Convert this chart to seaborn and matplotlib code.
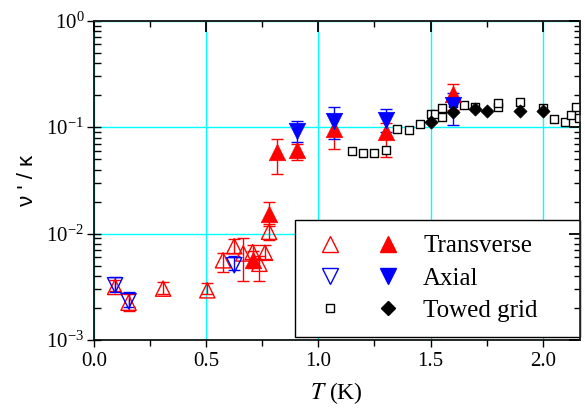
import numpy as np
import pandas as pd
import matplotlib
matplotlib.use("Agg")
import matplotlib.pyplot as plt
import seaborn as sns
from matplotlib.legend_handler import HandlerTuple
from matplotlib.lines import Line2D
from matplotlib.ticker import LogLocator, LogFormatterMathtext, MultipleLocator, NullFormatter

# ---- data ----
tr_open_T = [0.094, 0.154, 0.308, 0.505, 0.575, 0.625, 0.665, 0.707, 0.737, 0.762, 0.78]
tr_open_v = [0.00315, 0.00224, 0.00304, 0.00293, 0.00561, 0.0076, 0.0065, 0.0067, 0.0052, 0.0066, 0.0104]
tr_open_lo = [0.0029, 0.00187, 0.0027, 0.0027, 0.0044, 0.0065, 0.0036, 0.0058, 0.0036, 0.0058, 0.0087]
tr_open_hi = [0.0037, 0.0027, 0.0035, 0.0034, 0.0066, 0.0088, 0.0090, 0.0078, 0.0062, 0.0078, 0.0124]

tr_fill_T = [0.707, 0.78, 0.816, 0.903, 1.069, 1.302, 1.60]
tr_fill_v = [0.0057, 0.0152, 0.0586, 0.0608, 0.097, 0.090, 0.204]
tr_fill_lo = [0.0048, 0.0119, 0.036, 0.049, 0.063, 0.053, 0.145]
tr_fill_hi = [0.0068, 0.0198, 0.078, 0.070, 0.13, 0.11, 0.257]

ax_open_T = [0.094, 0.154, 0.625]
ax_open_v = [0.00327, 0.00232, 0.00504]
ax_open_lo = [0.0028, 0.00204, 0.0045]
ax_open_hi = [0.0039, 0.0028, 0.0061]

ax_fill_T = [0.903, 1.069, 1.302, 1.60]
ax_fill_v = [0.092, 0.115, 0.118, 0.16]
ax_fill_lo = [0.073, 0.078, 0.090, 0.104]
ax_fill_hi = [0.115, 0.155, 0.147, 0.21]

tg_open_T = [1.151, 1.20, 1.25, 1.30, 1.351, 1.402, 1.452, 1.501, 1.52, 1.55, 1.55, 1.60,
             1.65, 1.70, 1.80, 1.80, 1.90, 2.0, 2.05, 2.10, 2.127, 2.15, 2.16]
tg_open_v = [0.0598, 0.0574, 0.0574, 0.0617, 0.0957, 0.0937, 0.107, 0.133, 0.133, 0.125, 0.152, 0.167,
             0.161, 0.155, 0.155, 0.170, 0.174, 0.150, 0.119, 0.111, 0.130, 0.155, 0.121]

tg_fill_T = [1.501, 1.60, 1.70, 1.75, 1.90, 2.0]
tg_fill_v = [0.111, 0.139, 0.147, 0.142, 0.142, 0.141]

legend_labels = ['Transverse', 'Axial', 'Towed grid']

# ---- style ----
sns.set_theme(style="white")
plt.rcParams['font.family'] = ['Liberation Serif', 'DejaVu Serif']
plt.rcParams['mathtext.fontset'] = 'stix'
plt.rcParams['text.color'] = 'black'
plt.rcParams['axes.labelcolor'] = 'black'
plt.rcParams['xtick.color'] = 'black'
plt.rcParams['ytick.color'] = 'black'

fig = plt.figure(figsize=(5.85, 4.2), dpi=100)
ax = fig.add_axes([0.1607, 0.1905, 0.830, 0.760])

RED = '#ff0000'
BLUE = '#0000ff'

def errs(v, lo, hi):
    v = np.asarray(v); lo = np.asarray(lo); hi = np.asarray(hi)
    return np.vstack([v - lo, hi - v])

# error bars
for T, v, lo, hi, c in [(tr_open_T, tr_open_v, tr_open_lo, tr_open_hi, RED),
                        (ax_open_T, ax_open_v, ax_open_lo, ax_open_hi, BLUE),
                        (tr_fill_T, tr_fill_v, tr_fill_lo, tr_fill_hi, RED),
                        (ax_fill_T, ax_fill_v, ax_fill_lo, ax_fill_hi, BLUE)]:
    ax.errorbar(T, v, yerr=errs(v, lo, hi), fmt='none', ecolor=c, elinewidth=1.0,
                capsize=4, capthick=1.0, zorder=3)

# markers via seaborn
sns.scatterplot(x=tr_open_T, y=tr_open_v, marker='^', s=120, facecolor='none',
                edgecolor=RED, linewidth=1.0, ax=ax, zorder=4)
sns.scatterplot(x=ax_open_T, y=ax_open_v, marker='v', s=120, facecolor='none',
                edgecolor=BLUE, linewidth=1.0, ax=ax, zorder=4)
sns.scatterplot(x=tr_fill_T, y=tr_fill_v, marker='^', s=140, color=RED,
                edgecolor=RED, linewidth=0.5, ax=ax, zorder=5)
sns.scatterplot(x=ax_fill_T, y=ax_fill_v, marker='v', s=140, color=BLUE,
                edgecolor=BLUE, linewidth=0.5, ax=ax, zorder=5)
sns.scatterplot(x=tg_open_T, y=tg_open_v, marker='s', s=40, facecolor='white',
                edgecolor='black', linewidth=1.0, ax=ax, zorder=4)
sns.scatterplot(x=tg_fill_T, y=tg_fill_v, marker='D', s=45, color='black',
                edgecolor='black', linewidth=0.5, ax=ax, zorder=6)

ax.set_yscale('log')
ax.set_xlim(0, 2.164)
ax.set_ylim(1e-3, 1)

ax.xaxis.set_major_locator(MultipleLocator(0.5))
ax.xaxis.set_minor_locator(MultipleLocator(0.25))
ax.xaxis.set_major_formatter(matplotlib.ticker.FormatStrFormatter('%.1f'))
ax.yaxis.set_major_locator(LogLocator(base=10, numticks=10))
ax.yaxis.set_minor_locator(LogLocator(base=10, subs=np.arange(2, 10), numticks=20))
ax.yaxis.set_major_formatter(LogFormatterMathtext())
ax.yaxis.set_minor_formatter(NullFormatter())

ax.grid(True, which='major', color='#00ffff', linewidth=1.0, zorder=0)
ax.set_axisbelow(True)
for sp in ax.spines.values():
    sp.set_color('black')
    sp.set_linewidth(1.2)

ax.tick_params(axis='both', which='both', colors='black', labelcolor='black', labelsize=15)
ax.tick_params(axis='x', which='major', direction='out', length=5, width=1.0, top=False, bottom=True)
ax.tick_params(axis='x', which='minor', direction='out', length=4, width=1.0, top=False, bottom=True)
ax.tick_params(axis='y', which='major', direction='inout', length=10, width=1.0, left=True, right=False)
ax.tick_params(axis='y', which='minor', direction='in', length=5, width=1.0, left=True, right=False)
ax.tick_params(axis='x', pad=4)
ax.tick_params(axis='y', pad=2)

# top and right inward ticks
axt = ax.secondary_xaxis('top')
axt.xaxis.set_major_locator(MultipleLocator(0.5))
axt.xaxis.set_minor_locator(MultipleLocator(0.25))
axt.tick_params(axis='x', which='major', direction='in', length=8, width=1.3, labeltop=False, colors='black')
axt.tick_params(axis='x', which='minor', direction='in', length=4, width=1.0, colors='black')
axt.spines['top'].set_linewidth(1.2)
axt.set_zorder(20)
axr = ax.secondary_yaxis('right')
axr.yaxis.set_major_locator(LogLocator(base=10, numticks=10))
axr.yaxis.set_minor_locator(LogLocator(base=10, subs=np.arange(2, 10), numticks=20))
axr.yaxis.set_minor_formatter(NullFormatter())
axr.tick_params(axis='y', which='major', direction='in', length=8, width=1.3, labelright=False, colors='black')
axr.tick_params(axis='y', which='minor', direction='in', length=4, width=1.0, colors='black')
axr.spines['right'].set_linewidth(1.2)
axr.set_zorder(20)

ax.set_xlabel(r'$T$ (K)', fontsize=17, labelpad=6, color='black')
ax.set_ylabel("ν ' / κ", fontsize=16, family=['Liberation Sans', 'DejaVu Sans'], labelpad=6, color='black')

# legend
h_to = Line2D([], [], marker='^', ls='none', ms=11, mfc='none', mec=RED, mew=1.0)
h_tf = Line2D([], [], marker='^', ls='none', ms=11, mfc=RED, mec=RED)
h_ao = Line2D([], [], marker='v', ls='none', ms=11, mfc='none', mec=BLUE, mew=1.0)
h_af = Line2D([], [], marker='v', ls='none', ms=11, mfc=BLUE, mec=BLUE)
h_go = Line2D([], [], marker='s', ls='none', ms=6, mfc='white', mec='black', mew=1.0)
h_gf = Line2D([], [], marker='D', ls='none', ms=7, mfc='black', mec='black')
leg = ax.legend([(h_to, h_tf), (h_ao, h_af), (h_go, h_gf)],
                legend_labels,
                handler_map={tuple: HandlerTuple(ndivide=None, pad=0.72)},
                loc='lower left', bbox_to_anchor=(0.414, 0.0094, 0.587, 0.35),
                mode='expand', fontsize=18,
                handlelength=3.92, handletextpad=0.6, labelspacing=0.39,
                borderpad=0.6, borderaxespad=0, fancybox=False, framealpha=1,
                edgecolor='black', labelcolor='black')
leg.get_frame().set_linewidth(1.0)
leg.set_zorder(10)

fig.savefig('out.png', dpi=100)
